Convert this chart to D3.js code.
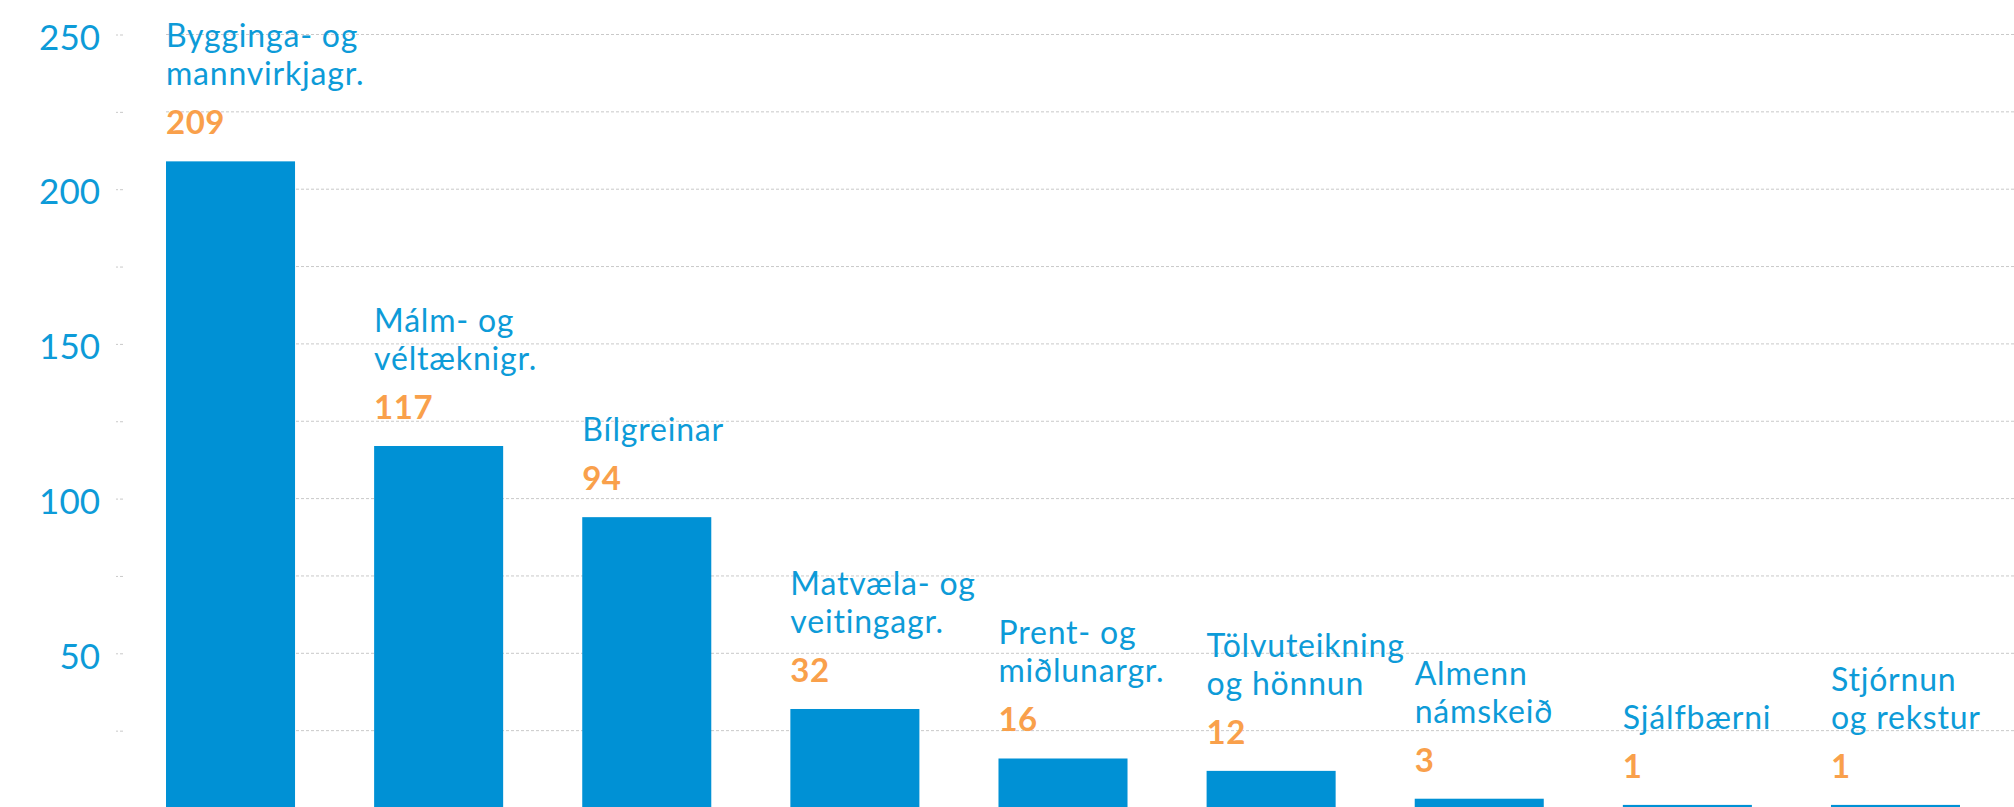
<!DOCTYPE html>
<html>
<head>
<meta charset="utf-8">
<script src="https://cdn.jsdelivr.net/npm/d3@7"></script>
<style>
  body { margin: 0; background: #fff; }
  svg { display: block; font-family: Lato, "Open Sans", sans-serif; }
</style>
</head>
<body>
<div id="graph"></div>
<script>
// chart data
var categories = [
    ["Bygginga- og", "mannvirkjagr."],
    ["Málm- og", "véltæknigr."],
    ["Bílgreinar"],
    ["Matvæla- og", "veitingagr."],
    ["Prent- og", "miðlunargr."],
    ["Tölvuteikning", "og hönnun"],
    ["Almenn", "námskeið"],
    ["Sjálfbærni"],
    ["Stjórnun", "og rekstur"]
];
var values = [209, 117, 94, 32, 16, 12, 3, 1, 1];
var tickValues = [25, 50, 75, 100, 125, 150, 175, 200, 225, 250];
var tickLabels = [50, 100, 150, 200, 250];

var width = 2014, height = 807;
var blue = "#0091d5", textBlue = "#0d9bd8", orange = "#f9a04b";

var svg = d3.select("#graph")
    .append("svg")
    .attr("width", width)
    .attr("height", height);

var keys = categories.map(function (d, i) { return i; });

var x = d3.scaleBand()
    .domain(keys)
    .range([166, 1960])
    .paddingInner(0.38)
    .paddingOuter(0);

var y = d3.scaleLinear()
    .domain([0, 250])
    .range([808, 34.5]);

// gridlines
svg.append("g")
    .selectAll("line")
    .data(tickValues)
    .enter()
    .append("line")
    .attr("x1", x.range()[0])
    .attr("x2", width)
    .attr("y1", function (d) { return y(d); })
    .attr("y2", function (d) { return y(d); })
    .attr("stroke", "#c9c9c9")
    .attr("stroke-width", 1)
    .attr("stroke-dasharray", "3,2");

// y axis
var yAxis = svg.append("g")
    .attr("transform", "translate(123,0)")
    .call(d3.axisLeft(y)
        .tickValues(tickValues)
        .tickSize(7)
        .tickPadding(16)
        .tickFormat(function (d) { return tickLabels.indexOf(d) >= 0 ? d : ""; }));
yAxis.select(".domain").remove();
yAxis.selectAll(".tick line")
    .attr("stroke", "#c9c9c9")
    .attr("stroke-dasharray", "3,2");
yAxis.selectAll(".tick text")
    .attr("fill", textBlue)
    .attr("dy", "0.42em")
    .style("font-family", "Lato, sans-serif")
    .style("font-size", "35px");

// bars
svg.append("g")
    .selectAll("rect")
    .data(values)
    .enter()
    .append("rect")
    .attr("x", function (d, i) { return x(i); })
    .attr("y", function (d) { return y(d); })
    .attr("width", x.bandwidth())
    .attr("height", function (d) { return y(0) - y(d); })
    .attr("fill", blue);

// value labels
svg.append("g")
    .selectAll("text")
    .data(values)
    .enter()
    .append("text")
    .attr("x", function (d, i) { return x(i); })
    .attr("y", function (d) { return y(d) - 27; })
    .attr("fill", orange)
    .style("font-size", "33px")
    .style("font-weight", "bold")
    .style("letter-spacing", "0.5px")
    .text(function (d) { return d; });

// category labels
var catGroups = svg.append("g")
    .selectAll("text")
    .data(categories)
    .enter()
    .append("text")
    .attr("fill", textBlue)
    .style("font-size", "32px")
    .style("letter-spacing", "0.8px");

catGroups.each(function (lines, i) {
    var base = y(values[i]) - 27 - 49;
    var t = d3.select(this);
    lines.forEach(function (line, j) {
        t.append("tspan")
            .attr("x", x(i))
            .attr("y", base - (lines.length - 1 - j) * 38)
            .text(line);
    });
});
</script>
</body>
</html>
